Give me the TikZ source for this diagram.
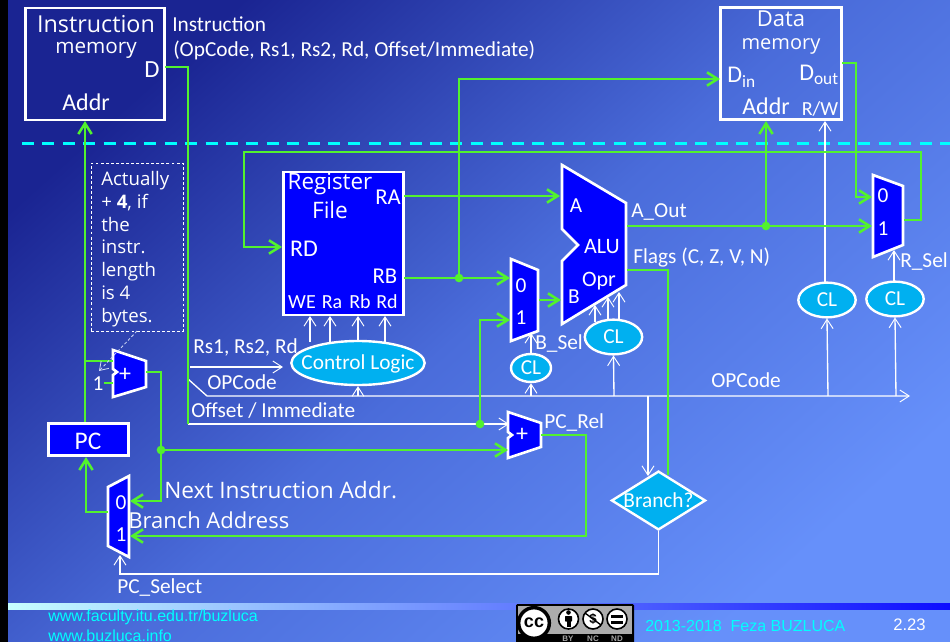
\documentclass[tikz,border=0pt]{standalone}
\usepackage{fontspec}
\setmainfont{Carlito}
\newfontfamily\hwfont{Open Sans}
\newfontfamily\arfont{Liberation Sans}
\usetikzlibrary{arrows.meta,shapes.geometric,calc}
\definecolor{bgA}{HTML}{1A2492}
\definecolor{bgM}{HTML}{4A6CDA}
\definecolor{bgB}{HTML}{6690FA}
\definecolor{wire}{HTML}{52F22E}
\definecolor{sky}{HTML}{00B0F0}
\definecolor{blk}{HTML}{0000FF}
\definecolor{cyanline}{HTML}{00FFFF}
\tikzset{
  lbl/.style={text=white,inner sep=0pt,font=\fontsize{16}{18}\selectfont},
  hw/.style={text=white,inner sep=0pt,font=\hwfont\fontsize{17}{19}\selectfont},
  gw/.style={draw=wire,line width=2.2pt,line join=miter},
  ga/.style={gw,-{Straight Barb[length=8pt,width=10pt,line width=1.9pt]}},
  ww/.style={draw=white,line width=1pt},
  wa/.style={ww,-{Straight Barb[length=7pt,width=9pt,line width=.7pt]}},
  blockw/.style={draw=white,line width=1.8pt,inner sep=0pt},
  blockb/.style={blockw,fill=blk},
  muxp/.style={draw=white,line width=2pt,fill=blk,line join=miter},
  cl/.style={ellipse,draw=white,line width=1.8pt,fill=sky,text=white,inner sep=0pt,font=\fontsize{16}{18}\selectfont},
  dotg/.style={circle,fill=wire,inner sep=0pt,minimum size=6.5pt},
  badge/.style={circle,draw=black,line width=1.2pt,fill=white,inner sep=0pt,minimum size=15pt},
}
\begin{document}
\begin{tikzpicture}[x=0.75pt,y=-0.75pt]
\useasboundingbox (0,0) rectangle (950,642);
% background
\shade[top color=bgA,bottom color=bgB,middle color=bgM,shading angle=42] (0,0) rectangle (950,642);
\fill[black] (0,0) rectangle (8,642);
\shade[left color=cyan!22!white,middle color=blue!35!white,right color=blue!95!white] (8,603) rectangle (950,609);
% dashed boundary
\coordinate (dashL) at (22,143.5);
\coordinate (dashR) at (950,143.5);
\draw[cyanline,line width=2.4pt,dash pattern=on 9pt off 6.3pt] (dashL) -- (dashR);
% blocks
\node[blockw,minimum width=104pt,minimum height=84pt] (imem) at (95,64) {};
\node[blockw,minimum width=91pt,minimum height=84pt] (dmem) at (781,63.5) {};
\node[blockb,minimum width=90pt,minimum height=107pt] (rf) at (343.5,243.5) {};
\node[blockb,minimum width=60pt,minimum height=24pt] (pc) at (88.5,439.5) {};
\node[cl,minimum width=100pt,minimum height=33pt] (ctl) at (358,363) {};
\node[lbl,text=white] (ctltxt) at (358,364) {Control Logic};
\node[cl,minimum width=30pt,minimum height=21pt] (clb) at (531,368) {CL};
\node[cl,minimum width=43pt,minimum height=26pt] (cla) at (613.5,337) {CL};
\node[cl,minimum width=43pt,minimum height=26pt] (clm) at (827,300) {CL};
\node[cl,minimum width=43pt,minimum height=26pt] (clr) at (895,299) {CL};
\node[diamond,aspect=1.6,draw=white,line width=1.8pt,fill=sky,text=white,inner sep=0pt,font=\fontsize{16}{18}\selectfont] (brq) at (658.5,500.5) {Branch?};
% polygons
\draw[muxp] (562,165) -- (626,203) -- (626,285) -- (562,324) -- (562,261) -- (578,245) -- (562,229) -- cycle;
\draw[muxp] (511,259) -- (538,270) -- (538,331) -- (511,341) -- cycle;
\draw[muxp] (873,175) -- (903,186) -- (903,245) -- (873,257) -- cycle;
\draw[muxp] (108,487) -- (129,476) -- (129,557) -- (108,546) -- cycle;
\draw[muxp] (113,350) -- (146,361) -- (146,387) -- (113,397) -- (113,375) -- (117,372) -- (113,369) -- cycle;
\draw[muxp] (508,412) -- (541,423) -- (541,447) -- (508,458) -- (508,438) -- (512,435) -- (508,432) -- cycle;
% ports and routing points
\coordinate (imD) at (165,67);
\coordinate (trunkT) at (188,67);
\coordinate (trunkB) at (188,424);
\coordinate (addOff) at (509,424);
\coordinate (rsA) at (190,367);
\coordinate (rsB) at (283,367);
\coordinate (opA) at (188,379);
\coordinate (opB) at (207,396);
\coordinate (opEnd) at (910,396);
\coordinate (rfA) at (404,196);
\coordinate (aluA) at (560,196);
\coordinate (rfB) at (404,278);
\coordinate (muxB0) at (510,278);
\coordinate (rbDot) at (459,278);
\coordinate (dinTurn) at (459,79);
\coordinate (dIn) at (720,79);
\coordinate (rmuxOut) at (904,220);
\coordinate (rmux1) at (872,226);
\coordinate (rmux0) at (872,197);
\coordinate (dOut) at (842,63);
\coordinate (loopR) at (921,152);
\coordinate (loopL) at (244,152);
\coordinate (rfD) at (282,247);
\coordinate (aluOut) at (627,226);
\coordinate (aDot) at (766,226);
\coordinate (dAddr) at (766,121);
\coordinate (flagOut) at (627,270);
\coordinate (flagTurn) at (668,270);
\coordinate (flagEnd) at (668,475);
\coordinate (muxBOut) at (539,300);
\coordinate (aluB) at (561,300);
\coordinate (offDot) at (480,424);
\coordinate (muxB1) at (510,320);
\coordinate (pcTop) at (85,422);
\coordinate (imAddr) at (85,121);
\coordinate (addTap) at (85,361);
\coordinate (addA) at (113,361);
\coordinate (oneEnd) at (104,383);
\coordinate (addB) at (113,383);
\coordinate (addOut) at (146,372);
\coordinate (addTurn) at (161,372);
\coordinate (nextDot) at (161,450);
\coordinate (pcm0) at (130,501);
\coordinate (addNext) at (508,450);
\coordinate (pcmOut) at (108,512);
\coordinate (pcIn) at (86,457);
\coordinate (relOut) at (541,435);
\coordinate (relTurn) at (586,435);
\coordinate (pcm1) at (130,536);
\coordinate (brDown) at (658,574);
\coordinate (selEnd) at (120,555);
\coordinate (brTap) at (648,396);
\coordinate (brIn) at (648,476);
\coordinate (noteA) at (137,331);
\coordinate (noteB) at (99,371);
% white connectors
\draw[wa] (trunkB) -- (addOff);
\draw[wa] (rsA) -- (rsB);
\draw[wa] (opA) -- (opB) -- (opEnd);
\draw[wa] (brTap) -- (brIn);
\draw[wa] (brq.south) |- (brDown) -| (selEnd);
\foreach \xx/\yy in {310/316,330/316,358/316,385/316}{
  \draw[wa] (\xx,342) -- (\xx,\yy);
}
\draw[wa] (358,396) -- (ctl.south);
\draw[wa] (531,396) -- (clb.south);
\draw[wa] (clb.north) -- (531,333);
\draw[wa] (614,396) -- (cla.south);
\draw[wa] (595,322) -- (595,305);
\draw[wa] (608,319) -- (608,297);
\draw[wa] (619,319) -- (619,292);
\draw[wa] (828,396) -- (clm.south);
\draw[wa] (825,283) -- (825,121);
\draw[wa] (896,396) -- (clr.south);
\draw[wa] (894,281) -- (894,250);
% green connectors
\draw[gw] (imD) -- (trunkT) -- (trunkB);
\draw[ga] (rfA) -- (aluA);
\draw[ga] (rfB) -- (muxB0);
\draw[ga] (rbDot) -- (dinTurn) -- (dIn);
\draw[ga] (rmuxOut) -| (loopR) -- (loopL) |- (rfD);
\draw[ga] (aluOut) -- (rmux1);
\draw[ga] (aDot) -- (dAddr);
\draw[ga] (dOut) -| (856,197) -- (rmux0);
\draw[gw] (flagOut) -- (flagTurn) -- (flagEnd);
\draw[ga] (muxBOut) -- (aluB);
\draw[ga] (offDot) |- (muxB1);
\draw[ga] (pcTop) -- (imAddr);
\draw[gw] (addTap) -- (addA);
\draw[gw] (oneEnd) -- (addB);
\draw[ga] (addOut) -- (addTurn) |- (pcm0);
\draw[ga] (nextDot) -- (addNext);
\draw[ga] (pcmOut) -| (pcIn);
\draw[ga] (relOut) -- (relTurn) |- (pcm1);
\node[dotg] at (rbDot) {};
\node[dotg] at (aDot) {};
\node[dotg] at (offDot) {};
\node[dotg] at (nextDot) {};
% note
\node[draw=white,line width=.6pt,dash pattern=on 2.2pt off 1.6pt,minimum width=69pt,minimum height=126pt,inner sep=0pt] (note) at (137,247) {};
\draw[white!75!bgM,line width=.6pt,dash pattern=on 2.2pt off 1.6pt,-{Straight Barb[length=6pt,width=8pt]}] (noteA) -- (noteB);
\node[text=white,inner sep=0pt,anchor=north west,align=left,font=\hwfont\fontsize{14}{17.1}\selectfont] (notetxt) at (101,171) {Actually\\+ \textbf{4}, if\\the\\instr.\\length\\is 4\\bytes.};
% labels
\node[hw,font=\hwfont\fontsize{17.5}{19}\selectfont] (t1) at (96,24) {Instruction};
\node[hw,font=\hwfont\fontsize{15.5}{17}\selectfont] (t2) at (96,50) {memory};
\node[lbl,font=\fontsize{18.5}{20}\selectfont] (t3) at (152,70) {D};
\node[lbl,font=\fontsize{18}{20}\selectfont] (t4) at (86,102) {Addr};
\node[lbl,anchor=west] (t5) at (172,24) {Instruction};
\node[lbl,anchor=west] (t6) at (173,50) {(OpCode, Rs1, Rs2, Rd, Offset/Immediate)};
\node[hw,font=\hwfont\fontsize{16.5}{18}\selectfont] (t7) at (781,19) {Data};
\node[hw,font=\hwfont\fontsize{15}{17}\selectfont] (t8) at (781,46) {memory};
\node[lbl,font=\fontsize{18}{20}\selectfont,anchor=base west] (t9) at (727,83) {D{\fontsize{13}{13}\selectfont\raisebox{-3.5pt}{in}}};
\node[lbl,font=\fontsize{18}{20}\selectfont,anchor=base west] (t10) at (799,80) {D{\fontsize{13}{13}\selectfont\raisebox{-3.5pt}{out}}};
\node[lbl,font=\fontsize{18}{20}\selectfont] (t11) at (766,106) {Addr};
\node[lbl,font=\fontsize{15}{19}\selectfont] (t12) at (820,109) {R/W};
\node[hw,font=\hwfont\fontsize{16.8}{19}\selectfont] (t13) at (330,184) {Register};
\node[hw,font=\hwfont\fontsize{17}{19}\selectfont] (t14) at (330,210) {File};
\node[lbl,font=\fontsize{17}{19}\selectfont] (t15) at (388,197) {RA};
\node[lbl,font=\fontsize{18}{20}\selectfont] (t16) at (304,249) {RD};
\node[lbl,font=\fontsize{17}{19}\selectfont] (t17) at (385,276) {RB};
\node[lbl,font=\fontsize{15}{17}\selectfont] (t18) at (302,302) {WE};
\node[lbl,font=\fontsize{15}{17}\selectfont] (t19) at (332,302) {Ra};
\node[lbl,font=\fontsize{15}{17}\selectfont] (t20) at (360,302) {Rb};
\node[lbl,font=\fontsize{15}{17}\selectfont] (t21) at (387,302) {Rd};
\node[lbl] (t22) at (576,206) {A};
\node[lbl,font=\fontsize{16.5}{18}\selectfont] (t23) at (602,247) {ALU};
\node[lbl,font=\fontsize{16.5}{18}\selectfont] (t24) at (599,281) {Opr};
\node[lbl] (t25) at (574,297) {B};
\node[lbl,anchor=west] (t26) at (631,212) {A\_Out};
\node[lbl,anchor=west] (t27) at (633,258) {Flags (C, Z, V, N)};
\node[lbl] (t28) at (521,286) {0};
\node[lbl] (t29) at (521,318) {1};
\node[lbl,anchor=west] (t30) at (535,344) {B\_Sel};
\node[lbl] (t31) at (883,196) {0};
\node[lbl] (t32) at (883,229) {1};
\node[lbl,anchor=west] (t33) at (900,262) {R\_Sel};
\node[lbl] (t34) at (121,503) {0};
\node[lbl] (t35) at (121,535) {1};
\node[lbl,font=\fontsize{18}{20}\selectfont] (t36) at (125,375) {+};
\node[lbl] (t37) at (98,384) {1};
\node[lbl,font=\fontsize{18}{20}\selectfont] (t38) at (522,435) {+};
\node[lbl,anchor=west] (t39) at (544,423) {PC\_Rel};
\node[lbl,font=\fontsize{19}{21}\selectfont] (t40) at (88,441) {PC};
\node[lbl,anchor=west] (t41) at (193,347) {Rs1, Rs2, Rd};
\node[lbl,anchor=west] (t42) at (207,382) {OPCode};
\node[lbl,anchor=west] (t43) at (191,411) {Offset / Immediate};
\node[lbl,anchor=west] (t44) at (711,380) {OPCode};
\node[lbl,anchor=west] (t45) at (117,588) {PC\_Select};
\node[hw,anchor=west] (t46) at (164,490) {Next Instruction Addr.};
\node[hw,anchor=west,font=\hwfont\fontsize{16.5}{18}\selectfont] (t47) at (128,520) {Branch Address};
% footer
\node[text=cyanline,inner sep=0pt,anchor=west,font=\arfont\fontsize{12}{14}\selectfont] (f1) at (48,617) {www.faculty.itu.edu.tr/buzluca};
\node[text=cyanline,inner sep=0pt,anchor=west,font=\arfont\fontsize{12}{14}\selectfont] (f2) at (48,636) {www.buzluca.info};
\node[text=cyanline,inner sep=0pt,anchor=west,font=\arfont\fontsize{12}{13}\selectfont] (f3) at (645,626) {2013-2018\ \ Feza BUZLUCA};
\node[text=white,inner sep=0pt,anchor=west,font=\arfont\fontsize{12.5}{13}\selectfont] (f4) at (893,625) {2.23};
% licence badge
\begin{scope}
\clip (0,0) rectangle (950,642);
\fill[rounded corners=1pt,black] (516,604) rectangle (634,648);
\fill[gray!65] (518,606) rectangle (632,634);
\node[circle,draw=black,line width=2.6pt,fill=white,inner sep=0pt,minimum size=23pt,text=black,font=\arfont\bfseries\fontsize{13.5}{14}\selectfont] (cc) at (534,623) {cc};
\node[badge] (by) at (568.5,619) {};
\fill[black] (568.5,612.5) circle (2.3);
\fill[black,rounded corners=.5pt] (565,616) rectangle (572,621.5);
\fill[black] (566.5,621) rectangle (570.5,627);
\node[badge,text=black,font=\arfont\bfseries\fontsize{10}{10}\selectfont] (nc) at (593,619) {\$};
\draw[black,line width=1pt] (585,613) -- (601,625);
\node[badge] (nd) at (617,619) {};
\fill[black] (611,615) rectangle (623,618);
\fill[black] (611,620.5) rectangle (623,623.5);
\node[text=gray!70,inner sep=0pt,font=\arfont\bfseries\fontsize{6}{6}\selectfont] (cby) at (568,638.5) {BY};
\node[text=gray!70,inner sep=0pt,font=\arfont\bfseries\fontsize{6}{6}\selectfont] (cnc) at (593,638.5) {NC};
\node[text=gray!70,inner sep=0pt,font=\arfont\bfseries\fontsize{6}{6}\selectfont] (cnd) at (617,638.5) {ND};
\end{scope}
\end{tikzpicture}
\end{document}
